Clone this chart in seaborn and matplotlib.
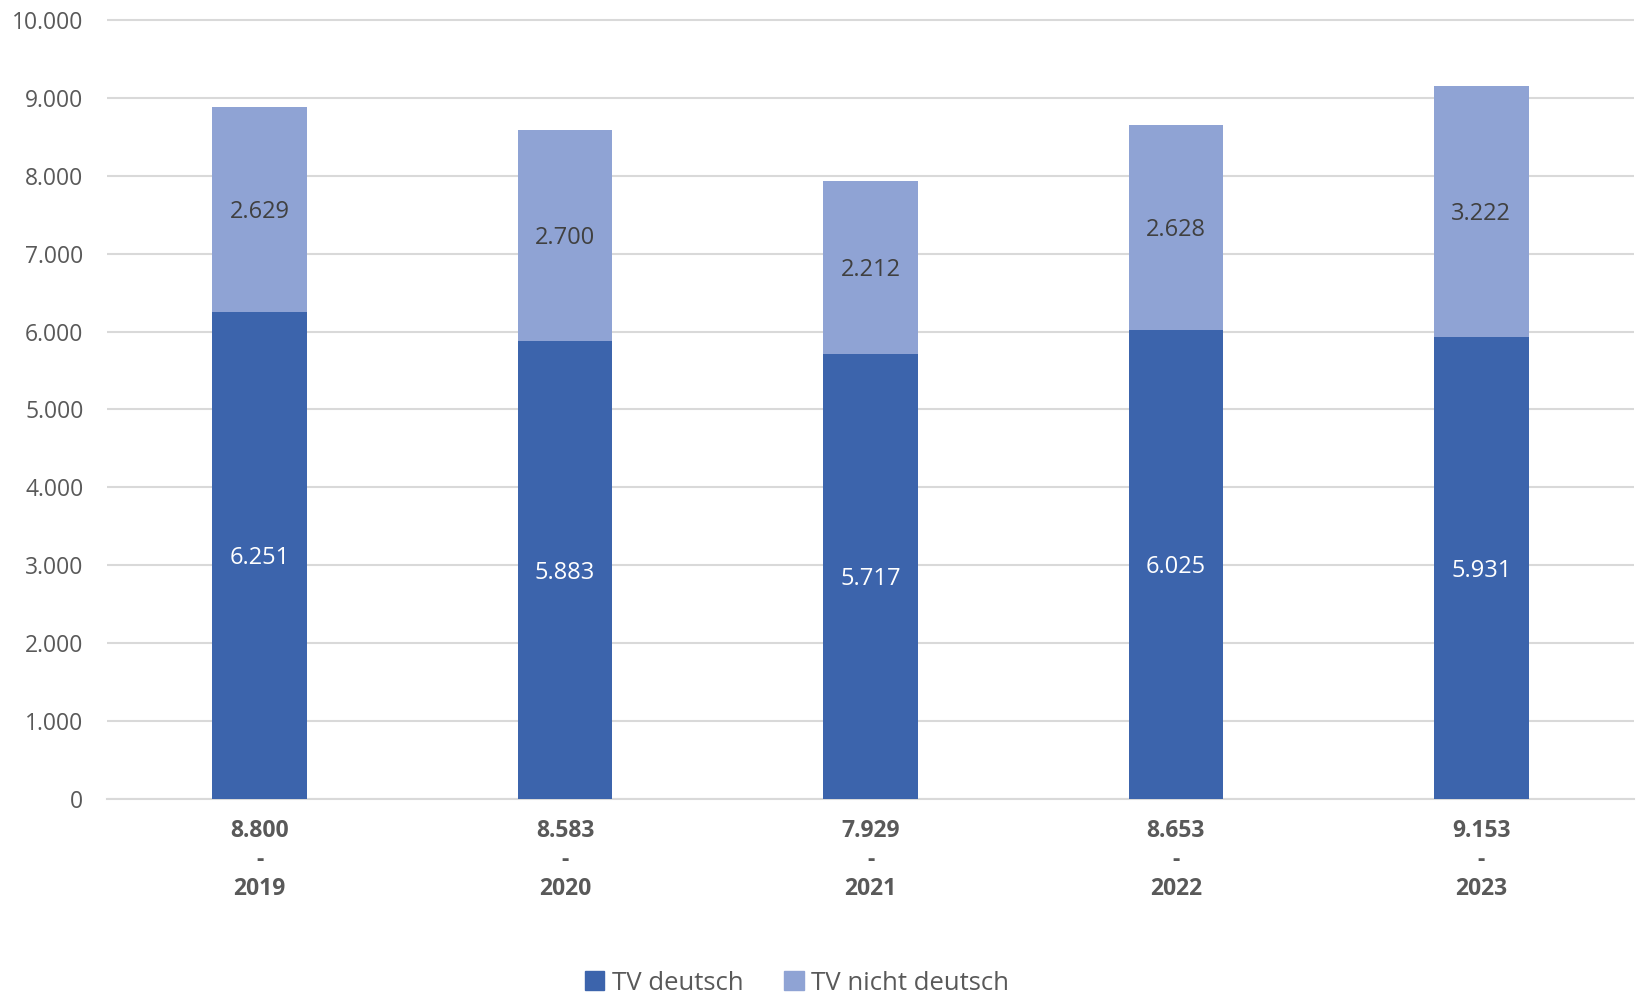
import matplotlib
matplotlib.use("Agg")
import matplotlib.pyplot as plt
import seaborn as sns
import pandas as pd
from matplotlib.patches import Patch

years = ["2019", "2020", "2021", "2022", "2023"]
tv_deutsch = [6251, 5883, 5717, 6025, 5931]
tv_nicht_deutsch = [2629, 2700, 2212, 2628, 3222]
totals = [8800, 8583, 7929, 8653, 9153]
series_names = ["TV deutsch", "TV nicht deutsch"]
y_ticks = [0, 1000, 2000, 3000, 4000, 5000, 6000, 7000, 8000, 9000, 10000]

c_dark = "#3C64AC"
c_light = "#8FA3D4"
txt = "#595959"

def de(v):
    return f"{v:,}".replace(",", ".")

sns.set_theme(style="white")
plt.rcParams["font.family"] = ["Open Sans", "DejaVu Sans"]

df = pd.DataFrame({"Jahr": years, "de": tv_deutsch, "nde": tv_nicht_deutsch})

fig = plt.figure(figsize=(16.37, 9.97), dpi=100)
ax = fig.add_axes([107/1637, 1-799/997, (1634-107)/1637, (799-16)/997])

sns.barplot(data=df, x="Jahr", y="de", order=years, color=c_dark, width=0.31,
            saturation=1, ax=ax, zorder=3, linewidth=0, edgecolor="none")
sns.barplot(data=df, x="Jahr", y="nde", order=years, color=c_light, width=0.31,
            saturation=1, ax=ax, bottom=df["de"], zorder=3, linewidth=0, edgecolor="none")

n = len(years)
bars_dark = ax.patches[:n]
bars_light = ax.patches[n:2*n]
for b, v in zip(bars_dark, tv_deutsch):
    ax.annotate(de(v), (b.get_x() + b.get_width()/2, b.get_y() + b.get_height()/2),
                xytext=(0, -2), textcoords="offset points",
                ha="center", va="center", color="white", fontsize=17, zorder=4)
for b, v in zip(bars_light, tv_nicht_deutsch):
    ax.annotate(de(v), (b.get_x() + b.get_width()/2, b.get_y() + b.get_height()/2),
                xytext=(0, -2), textcoords="offset points",
                ha="center", va="center", color="#404040", fontsize=17, zorder=4)

ax.set_xlim(-0.5, n - 0.5)
ax.set_ylim(0, 10050)
ax.set_yticks(y_ticks)
ax.set_yticklabels([de(v) for v in y_ticks], fontsize=16.5, color=txt)
ax.set_xticks(range(n))
ax.set_xticklabels([f"{de(t)}\n-\n{y}" for t, y in zip(totals, years)],
                   fontsize=16.5, fontweight="bold", color=txt, linespacing=1.28)
ax.tick_params(axis="y", length=0, pad=17)
ax.tick_params(axis="x", length=0, pad=14.5)
ax.set_xlabel("")
ax.set_ylabel("")
ax.yaxis.grid(True, color="#D9D9D9", linewidth=1.5, zorder=0)
ax.set_axisbelow(True)
for s in ["top", "right", "left"]:
    ax.spines[s].set_visible(False)
ax.spines["bottom"].set_color("#D9D9D9")
ax.spines["bottom"].set_linewidth(1.5)

handles = [Patch(color=c_dark, label=series_names[0]),
           Patch(color=c_light, label=series_names[1])]
leg = fig.legend(handles=handles, loc="center", bbox_to_anchor=(797/1637, 1-983/997),
                 ncol=2, frameon=False, fontsize=18.5, handlelength=0.75, handleheight=0.75,
                 handletextpad=0.3, columnspacing=1.6)
for t in leg.get_texts():
    t.set_color(txt)

fig.savefig("out.png", dpi=100)
